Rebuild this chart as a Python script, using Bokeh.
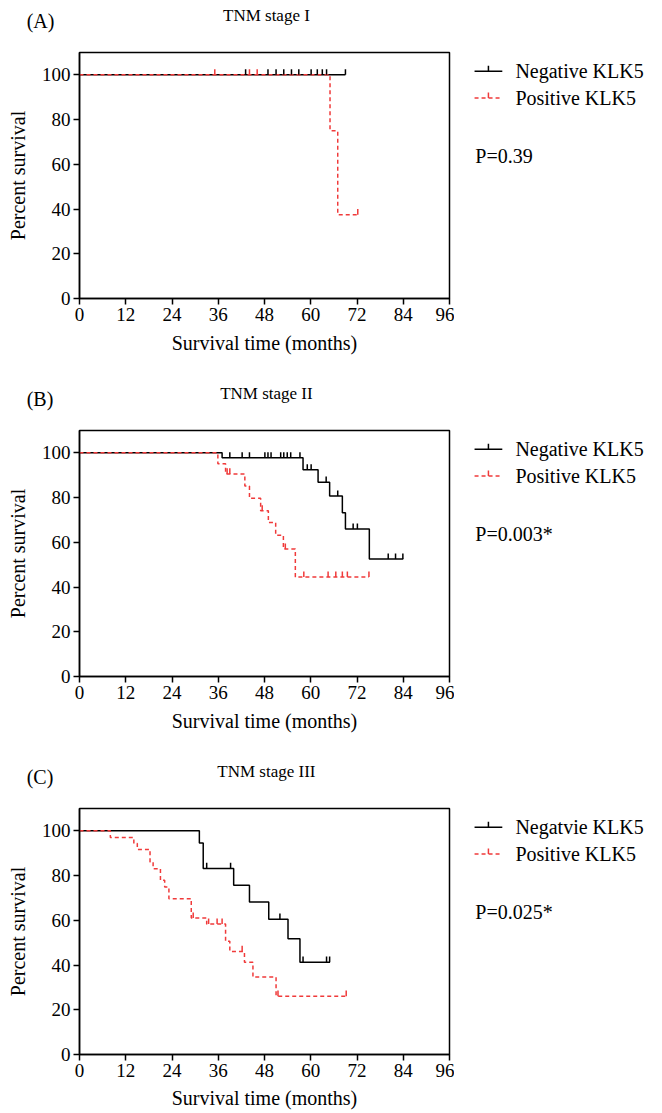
import numpy as np
from bokeh.plotting import figure
from bokeh.layouts import column, row
from bokeh.models import Range1d, FixedTicker
from bokeh.core.properties import value
from bokeh.embed import file_html
from bokeh.resources import INLINE

FONT = "Liberation Serif"
BLACK = "#000000"
RED = "#f03a3a"

x_ticks = [0, 12, 24, 36, 48, 60, 72, 84, 96]
y_ticks = [0, 20, 40, 60, 80, 100]

# ---- Panel A: TNM stage I ----
negA_t = [0, 69.0]
negA_s = [100, 100]
negA_c = [43.1, 48.9, 51.0, 53.0, 55.0, 56.9, 60.1, 61.7, 63.0, 64.1, 69.0]
posA_t = [0, 65.0, 67.0, 72.2]
posA_s = [100, 75.0, 37.5, 37.5]
posA_c = [35.1, 44.1, 46.1, 72.2]

# ---- Panel B: TNM stage II ----
negB_t = [0, 37.0, 58.0, 61.9, 64.9, 68.2, 69.0, 75.2, 84.0]
negB_s = [100, 97.8, 92.4, 86.9, 80.7, 73.2, 65.9, 52.5, 52.5]
negB_c = [39.0, 42.2, 44.1, 48.1, 48.9, 49.7, 52.2, 53.0, 53.9, 54.8, 57.2,
          59.1, 60.1, 64.0, 67.0, 71.0, 72.1, 80.1, 82.0, 83.9]
posB_t = [0, 35.9, 37.9, 42.9, 44.1, 47.0, 49.0, 50.9, 52.9, 56.0, 75.1]
posB_s = [100, 95.1, 90.6, 85.2, 79.7, 74.1, 68.9, 63.2, 57.0, 44.5, 44.5]
posB_c = [38.3, 39.0, 47.4, 53.4, 58.2, 64.5, 66.5, 68.2, 69.5, 75.1]

# ---- Panel C: TNM stage III ----
negC_t = [0, 31.1, 32.1, 40.0, 44.1, 49.1, 54.1, 57.2, 65.0]
negC_s = [100, 94.6, 83.2, 75.7, 68.2, 60.5, 51.8, 41.3, 41.3]
negC_c = [33.0, 39.2, 52.0, 58.0, 64.1, 64.9]
posC_t = [0, 8.0, 14.1, 15.0, 18.3, 19.1, 21.0, 22.1, 23.2, 29.0, 33.0, 37.9,
          39.0, 42.8, 45.0, 51.0, 69.2]
posC_s = [100, 97.0, 94.3, 91.7, 86.1, 83.1, 77.9, 74.9, 69.7, 61.0, 58.3, 50.6,
          46.1, 41.3, 34.6, 26.1, 26.1]
posC_c = [29.5, 33.5, 35.7, 37.0, 42.2, 51.5, 69.2]

letters = ["(A)", "(B)", "(C)"]
titles = ["TNM stage I", "TNM stage II", "TNM stage III"]
neg_labels = ["Negative KLK5", "Negative KLK5", "Negatvie KLK5"]
pos_labels = ["Positive KLK5", "Positive KLK5", "Positive KLK5"]
p_texts = ["P=0.39", "P=0.003*", "P=0.025*"]

TICK = 2.5  # censor mark length (percent units)

# layout geometry (pixels)
LEFT, FW, RGAP, FH, TOP, HEAD = 79, 370, 5, 246, 8, 44
MAIN_W = LEFT + FW + RGAP
SIDE_W = 206
HEAD_W = MAIN_W + SIDE_W
XMAX, YMAX = 96.0, 110.0
PXM = FW / XMAX
PXY = FH / YMAX


def surv_at(t, s, c):
    idx = np.searchsorted(np.array(t), np.array(c), side="right") - 1
    return np.array(s)[idx]


def bare(fig):
    fig.xgrid.visible = False
    fig.ygrid.visible = False
    fig.outline_line_color = None
    fig.background_fill_color = "white"
    fig.border_fill_color = "white"
    return fig


def make_panel(i, neg, pos, bottom, xstand):
    # header strip with the panel letter and title
    head = bare(figure(width=HEAD_W, height=HEAD,
                       x_range=Range1d(-LEFT / PXM, (HEAD_W - LEFT) / PXM),
                       y_range=Range1d(YMAX + TOP / PXY, YMAX + (TOP + HEAD) / PXY),
                       x_axis_type=None, y_axis_type=None,
                       output_backend="svg", toolbar_location=None,
                       min_border_left=0, min_border_right=0,
                       min_border_top=0, min_border_bottom=0))
    head.text(x=[-13.7], y=[124.2], text=[letters[i]], text_font=value(FONT),
              text_font_size=value("20px"), text_baseline="middle", text_align="left",
              text_color=BLACK)
    head.text(x=[48.5], y=[126.5], text=[titles[i]], text_font=value(FONT),
              text_font_size=value("17px"), text_baseline="middle", text_align="center",
              text_color=BLACK)

    h = TOP + FH + bottom
    p = figure(width=MAIN_W, height=h, x_range=Range1d(0, XMAX), y_range=Range1d(0, YMAX),
               output_backend="svg", toolbar_location=None,
               min_border_left=LEFT, min_border_right=RGAP, min_border_top=TOP,
               min_border_bottom=bottom)
    p.xgrid.visible = False
    p.ygrid.visible = False
    p.outline_line_color = BLACK
    p.outline_line_width = 1.5
    p.background_fill_color = "white"
    p.border_fill_color = "white"
    p.xaxis.ticker = FixedTicker(ticks=x_ticks)
    p.yaxis.ticker = FixedTicker(ticks=y_ticks)
    for ax in (p.xaxis, p.yaxis):
        ax.axis_line_width = 1.5
        ax.axis_line_color = BLACK
        ax.major_tick_line_width = 1.5
        ax.major_tick_line_color = BLACK
        ax.major_tick_out = 6
        ax.major_tick_in = 0
        ax.minor_tick_out = 0
        ax.minor_tick_in = 0
        ax.major_label_text_font = FONT
        ax.major_label_text_font_size = "19px"
        ax.major_label_text_color = BLACK
        ax.axis_label_text_font = FONT
        ax.axis_label_text_font_size = "20px"
        ax.axis_label_text_font_style = "normal"
        ax.axis_label_text_color = BLACK
        ax.major_label_standoff = 3
    p.xaxis.axis_label = "Survival time (months)"
    p.yaxis.axis_label = "Percent survival"
    p.xaxis.axis_label_standoff = xstand
    p.yaxis.axis_label_standoff = 10

    (nt, ns, nc), (pt, ps, pc) = neg, pos
    p.step(nt, ns, mode="after", line_color=BLACK, line_width=1.5)
    p.step(pt, ps, mode="after", line_color=RED, line_width=1.5, line_dash="4 3")
    ncs = surv_at(nt, ns, nc)
    p.segment(x0=nc, y0=ncs, x1=nc, y1=ncs + TICK, line_color=BLACK, line_width=1.5)
    pcs = surv_at(pt, ps, pc)
    p.segment(x0=pc, y0=pcs, x1=pc, y1=pcs + TICK, line_color=RED, line_width=1.5)

    # side strip: legend and P value
    sx0 = XMAX + RGAP / PXM
    side = bare(figure(width=SIDE_W, height=h,
                       x_range=Range1d(sx0, sx0 + SIDE_W / PXM), y_range=Range1d(0, YMAX),
                       x_axis_type=None, y_axis_type=None,
                       output_backend="svg", toolbar_location=None,
                       min_border_left=0, min_border_right=0,
                       min_border_top=TOP, min_border_bottom=bottom))
    leg_y = [101.6, 89.6]
    leg_col = [BLACK, RED]
    leg_dash = ["solid", "4 3"]
    leg_lab = [neg_labels[i], pos_labels[i]]
    for yy, col, dash in zip(leg_y, leg_col, leg_dash):
        side.segment(x0=[102.5], y0=[yy], x1=[109.7], y1=[yy], line_color=col,
                     line_width=1.5, line_dash=dash)
        side.segment(x0=[106.1], y0=[yy], x1=[106.1], y1=[yy + TICK], line_color=col,
                     line_width=1.5)
    side.text(x=[113.1, 113.1], y=leg_y, text=leg_lab, text_font=value(FONT),
              text_font_size=value("20px"), text_baseline="middle", text_align="left",
              text_color=BLACK)
    side.text(x=[102.7], y=[63.5], text=[p_texts[i]], text_font=value(FONT),
              text_font_size=value("20px"), text_baseline="middle", text_align="left",
              text_color=BLACK)
    return column(head, row(p, side, spacing=0), spacing=0)


pA = make_panel(0, (negA_t, negA_s, negA_c), (posA_t, posA_s, posA_c), 80, 8)
pB = make_panel(1, (negB_t, negB_s, negB_c), (posB_t, posB_s, posB_c), 80, 8)
pC = make_panel(2, (negC_t, negC_s, negC_c), (posC_t, posC_s, posC_c), 58, 7)

layout = column(pA, pB, pC, spacing=0)
open("out.html", "w").write(file_html(layout, INLINE))
